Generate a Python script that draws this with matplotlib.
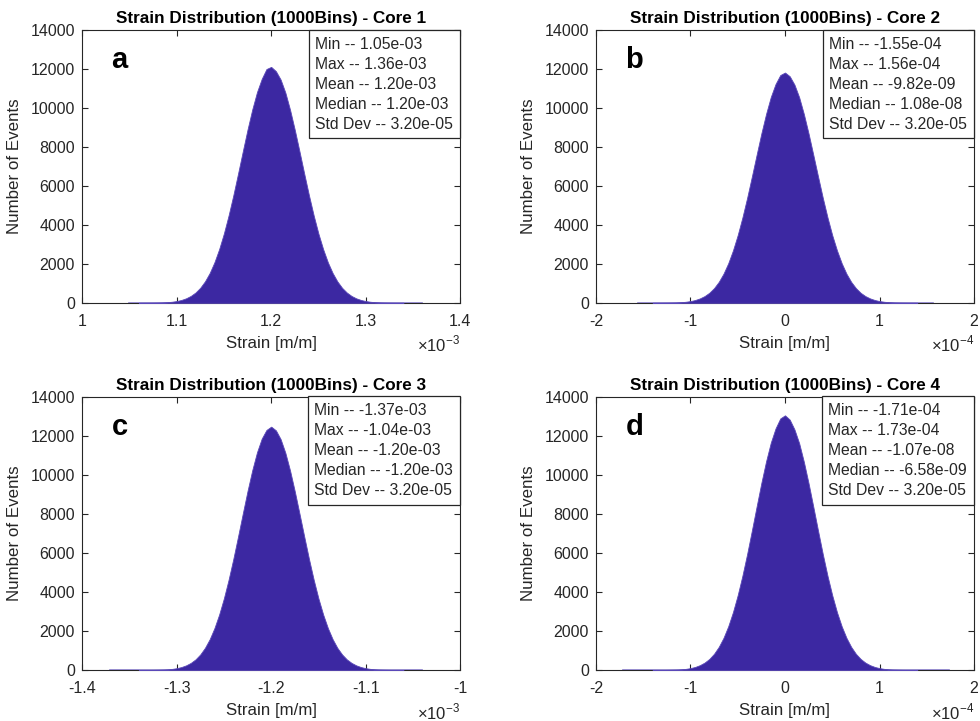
import numpy as np
import matplotlib
matplotlib.use('Agg')
import matplotlib.pyplot as plt
from matplotlib.ticker import FuncFormatter

plt.rcParams['font.family'] = ['Liberation Sans', 'DejaVu Sans']
plt.rcParams['axes.unicode_minus'] = False
plt.rcParams['mathtext.fontset'] = 'custom'
plt.rcParams['mathtext.rm'] = 'Liberation Sans'

# histogram heights (coarse, one value per half step)
core1_counts = [1, 2, 3, 6, 11, 19, 33, 55, 91, 147, 232, 355, 530, 775, 1105, 1535, 2085, 2760,
                3565, 4495, 5530, 6645, 7785, 8905, 9935, 10825, 11505, 12010, 12120,
                11900, 11470, 10800, 9910, 8880, 7765, 6625, 5515, 4480, 3550, 2750, 2075, 1530,
                1100, 770, 528, 352, 230, 146, 90, 54, 32, 19, 11, 6, 3, 2, 1]
core2_counts = [1, 2, 3, 6, 10, 18, 32, 54, 89, 144, 227, 347, 518, 757, 1079, 1500, 2035, 2695,
                3480, 4390, 5400, 6490, 7605, 8700, 9705, 10575, 11240, 11700, 11830,
                11640, 11210, 10560, 9690, 8685, 7590, 6480, 5390, 4380, 3470, 2690, 2030, 1495,
                1075, 755, 515, 345, 226, 143, 89, 54, 32, 18, 10, 6, 3, 2, 1]
core3_counts = [1, 2, 3, 6, 11, 20, 34, 57, 94, 152, 239, 366, 546, 799, 1139, 1582, 2149, 2845,
                3674, 4633, 5699, 6848, 8023, 9177, 10239, 11156, 11857, 12300, 12470,
                12280, 11830, 11130, 10215, 9150, 8000, 6830, 5685, 4620, 3665, 2840, 2145, 1580,
                1135, 797, 545, 365, 238, 151, 94, 57, 34, 20, 11, 6, 3, 2, 1]
core4_counts = [1, 2, 3, 6, 12, 20, 36, 59, 98, 158, 250, 382, 570, 834, 1189, 1652, 2244, 2970,
                3837, 4838, 5951, 7151, 8378, 9584, 10692, 11650, 12380, 12890, 13050,
                12830, 12330, 11620, 10660, 9555, 8355, 7130, 5935, 4820, 3825, 2960, 2235, 1648,
                1185, 830, 568, 380, 248, 157, 97, 58, 35, 20, 12, 6, 3, 2, 1]
counts = [core1_counts, core2_counts, core3_counts, core4_counts]

# first bin position and step (in units of the axis scale)
bin_lo = [1.06, -1.4, -1.34, -1.4]
bin_step = [0.005, 0.05, 0.005, 0.05]
# min / max strain (scaled)
data_min = [1.05, -1.55, -1.37, -1.71]
data_max = [1.36, 1.56, -1.04, 1.73]

xlims = [(1, 1.4), (-2, 2), (-1.4, -1), (-2, 2)]
xticks = [[1, 1.1, 1.2, 1.3, 1.4], [-2, -1, 0, 1, 2], [-1.4, -1.3, -1.2, -1.1, -1], [-2, -1, 0, 1, 2]]
exponents = [-3, -4, -3, -4]
letters = ['a', 'b', 'c', 'd']
cores = ['Core 1', 'Core 2', 'Core 3', 'Core 4']

stat_names = ['Min', 'Max', 'Mean', 'Median', 'Std Dev']
stats = [
    ['1.05e-03', '1.36e-03', '1.20e-03', '1.20e-03', '3.20e-05'],
    ['-1.55e-04', '1.56e-04', '-9.82e-09', '1.08e-08', '3.20e-05'],
    ['-1.37e-03', '-1.04e-03', '-1.20e-03', '-1.20e-03', '3.20e-05'],
    ['-1.71e-04', '1.73e-04', '-1.07e-08', '-6.58e-09', '3.20e-05'],
]

fill_col = '#3c28a2'
dark = '#262626'

fig = plt.figure(figsize=(9.8, 7.21), dpi=100)
positions = [[0.0837, 0.580, 0.386, 0.378], [0.608, 0.580, 0.386, 0.378],
             [0.0837, 0.0707, 0.386, 0.379], [0.608, 0.0707, 0.386, 0.379]]

for i in range(4):
    ax = fig.add_axes(positions[i])
    c = np.array(counts[i])
    x = bin_lo[i] + bin_step[i] * np.arange(len(c))
    ax.plot([data_min[i], data_max[i]], [0, 0], color='#8c82d2', lw=1.2, zorder=2)
    ax.fill_between(x, 0, c, color=fill_col, lw=0.6, edgecolor='#5a48b8', zorder=3)

    ax.set_xlim(*xlims[i])
    ax.set_ylim(0, 14000)
    ax.set_xticks(xticks[i])
    ax.set_yticks(range(0, 14001, 2000))
    ax.xaxis.set_major_formatter(FuncFormatter(lambda v, p: '%g' % v))
    ax.tick_params(direction='in', top=True, right=True, length=4, width=0.8,
                   colors=dark, labelsize=11.5)
    ax.tick_params(axis='x', pad=8)
    ax.tick_params(axis='y', pad=5)
    for s in ax.spines.values():
        s.set_color(dark)
        s.set_linewidth(0.8)

    ax.set_title('Strain Distribution (1000Bins) - ' + cores[i], fontsize=12.3,
                 fontweight='bold', pad=5)
    ax.set_xlabel('Strain [m/m]', fontsize=12.2, color=dark, labelpad=5)
    ax.set_ylabel('Number of Events', fontsize=12.2, color=dark, labelpad=6)
    ax.text(1.0, -0.115, r'$\times10^{%d}$' % exponents[i], transform=ax.transAxes,
            ha='right', va='top', fontsize=12, color=dark)

    ax.text(0.078, 0.86, letters[i], transform=ax.transAxes, fontsize=21,
            fontweight='bold', va='baseline', ha='left')

    txt = '\n'.join(n + ' -- ' + v for n, v in zip(stat_names, stats[i]))
    ax.annotate(txt, xy=(1, 1), xycoords='axes fraction', xytext=(-5, -4.5),
                textcoords='offset points', ha='right', va='top', fontsize=11.3,
                multialignment='left', color=dark, linespacing=1.42, zorder=5,
                bbox=dict(boxstyle='square,pad=0.42', fc='white', ec=dark, lw=0.9))

fig.savefig('out.png', dpi=100)
